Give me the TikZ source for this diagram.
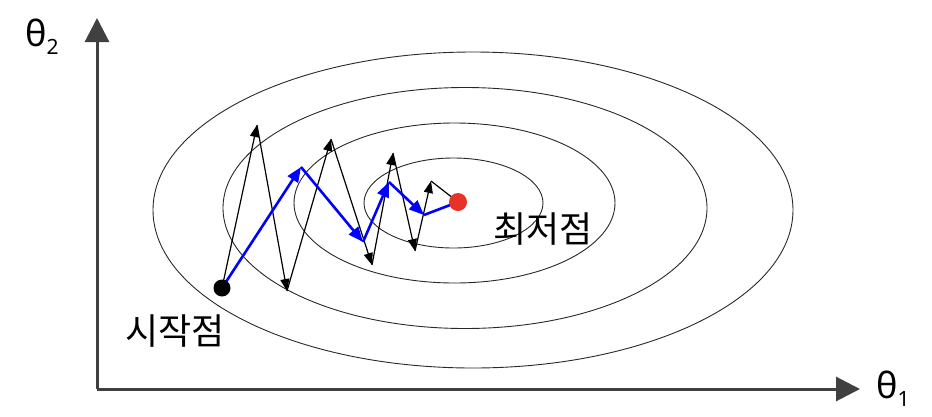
\documentclass[tikz,border=0pt]{standalone}
\usepackage{fontspec}
\setmainfont{Noto Sans}
\newfontfamily\kr{Noto Sans CJK KR}
\usetikzlibrary{arrows.meta}
\definecolor{axisgray}{RGB}{64,64,64}
\definecolor{ringgray}{RGB}{40,40,40}
\definecolor{minred}{RGB}{232,50,40}
\begin{document}
\begin{tikzpicture}[x=1pt,y=-1pt,
  axis/.style={draw=axisgray,line width=3pt,-{Triangle[length=24pt,width=24pt]}},
  ring/.style={draw=ringgray,line width=0.9pt},
  zig/.style={draw=black,line width=1.2pt,-{Triangle[length=12pt,width=9pt]}},
  zigend/.style={draw=black,line width=1.2pt},
  path/.style={draw=blue,line width=2.6pt,-{Triangle[length=15pt,width=12pt]}},
  pathend/.style={draw=blue,line width=2.6pt},
  dot/.style={circle,inner sep=0pt,minimum size=#1},
  krlabel/.style={font=\kr\fontsize{36}{40}\selectfont,inner sep=0pt},
  thlabel/.style={font=\fontsize{36}{40}\selectfont,inner sep=0pt,anchor=base west}
]
\useasboundingbox (0,0) rectangle (932,416);
% axes
\coordinate (o) at (97,389);
\coordinate (ytip) at (97,18);
\coordinate (xtip) at (860,389);
\draw[axis] (o) -- (ytip);
\draw[axis] (o) -- (xtip);
\node[thlabel] (t2) at (25,46) {θ\raisebox{-8pt}{\fontsize{21}{22}\selectfont 2}};
\node[thlabel] (t1) at (876,398) {θ\raisebox{-8pt}{\fontsize{21}{22}\selectfont 1}};
% contour ellipses
\draw[ring] (473,210) ellipse [x radius=320, y radius=158];
\draw[ring] (465,208) ellipse [x radius=242, y radius=120.5];
\draw[ring] (454.5,203) ellipse [x radius=160.5, y radius=80];
\draw[ring] (453.5,203) ellipse [x radius=89.5, y radius=45];
% points
\coordinate (s) at (222,288);
\coordinate (m) at (458,202);
\coordinate (a1) at (257,125);
\coordinate (a2) at (287,291);
\coordinate (a3) at (331,139);
\coordinate (a4) at (372,265);
\coordinate (a5) at (393,153);
\coordinate (a6) at (415,251);
\coordinate (a7) at (431,181);
\coordinate (b1) at (301,167);
\coordinate (b2) at (363,242);
\coordinate (b3) at (389,182);
\coordinate (b4) at (424,215);
% black zigzag
\draw[zig] (s) -- (a1);
\draw[zig] (a1) -- (a2);
\draw[zig] (a2) -- (a3);
\draw[zig] (a3) -- (a4);
\draw[zig] (a4) -- (a5);
\draw[zig] (a5) -- (a6);
\draw[zig] (a6) -- (a7);
\draw[zigend] (a7) -- (m);
% blue path
\draw[path] (s) -- (b1);
\draw[path] (b1) -- (b2);
\draw[path] (b2) -- (b3);
\draw[path] (b3) -- (b4);
\draw[pathend] (b4) -- (m);
% dots
\node[dot=17pt,fill=black] (sd) at (s) {};
\node[dot=18pt,fill=minred] (md) at (m) {};
% labels
\node[krlabel] (ls) at (175,331) {시작점};
\node[krlabel] (lm) at (543,229) {최저점};
\end{tikzpicture}
\end{document}
